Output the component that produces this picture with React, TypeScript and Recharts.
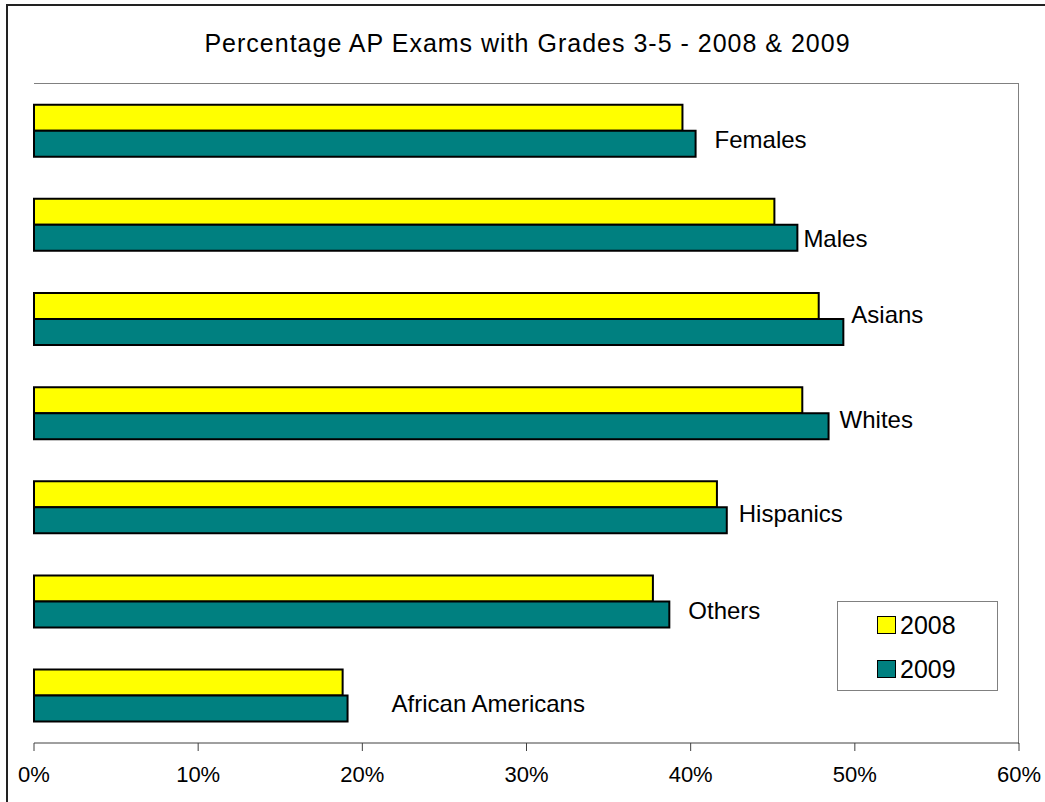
import { BarChart, Bar, XAxis, YAxis, Legend, LabelList } from 'recharts';

// category order top to bottom
const CATEGORIES = ['Females', 'Males', 'Asians', 'Whites', 'Hispanics', 'Others', 'African Americans'];
const VALUES_2008 = [0.395, 0.451, 0.478, 0.468, 0.416, 0.377, 0.188];
const VALUES_2009 = [0.403, 0.465, 0.493, 0.484, 0.422, 0.387, 0.191];
const X_TICKS = [0, 0.1, 0.2, 0.3, 0.4, 0.5, 0.6];

const SERIES = [
    { key: 'y2008', name: '2008', color: '#ffff00' },
    { key: 'y2009', name: '2009', color: '#008080' },
];

// hand placed category labels (px from the 2009 bar end / category centre)
const LABEL_DX = [19, 6, 8, 11, 12, 19, 44];
const LABEL_DY = [9, 14, -4, 6, 6, 9, 8];

const FONT = '"Liberation Sans", Arial, sans-serif';

const data = CATEGORIES.map((name, i) => ({
    name,
    y2008: VALUES_2008[i],
    y2009: VALUES_2009[i],
}));

const renderCategoryLabel = (props: any) => {
    const { x, y, width, index, value } = props;
    return (
        <text
            x={Number(x) + Number(width) + LABEL_DX[index]}
            y={Number(y) + LABEL_DY[index]}
            dominantBaseline="central"
            textAnchor="start"
            fontSize={24}
            fontFamily={FONT}
            fill="#000"
        >
            {value}
        </text>
    );
};

const renderLegend = () => (
    <div
        style={{
            position: 'relative',
            width: 159,
            height: 88,
            border: '1px solid #808080',
            background: '#fff',
            fontFamily: FONT,
            fontSize: 25,
            color: '#000',
        }}
    >
        {SERIES.map((s, i) => (
            <div
                key={s.key}
                style={{ position: 'absolute', left: 39, top: i === 0 ? 9 : 53, height: 28, display: 'flex', alignItems: 'center' }}
            >
                <span
                    style={{
                        display: 'inline-block',
                        width: 17,
                        height: 16,
                        background: s.color,
                        border: '1.5px solid #000',
                        marginRight: 4,
                    }}
                />
                <span>{s.name}</span>
            </div>
        ))}
    </div>
);

export default function App() {
    return (
        <div style={{ position: 'absolute', left: 0, top: 0, width: 1045, height: 802, overflow: 'hidden', background: '#fff' }}>
            <div
                style={{
                    position: 'absolute',
                    left: 6,
                    top: 4,
                    width: 1100,
                    height: 900,
                    border: '2px solid #222',
                }}
            />
            <div
                style={{
                    position: 'absolute',
                    left: 0,
                    top: 31,
                    width: 1055,
                    textAlign: 'center',
                    fontFamily: FONT,
                    fontSize: 25,
                    letterSpacing: 1,
                    lineHeight: '25px',
                    color: '#000',
                }}
            >
                Percentage AP Exams with Grades 3-5 - 2008 &amp; 2009
            </div>
            {/* plot area frame (top and right edges) */}
            <div
                style={{
                    position: 'absolute',
                    left: 34,
                    top: 83,
                    width: 984,
                    height: 660,
                    borderTop: '1.5px solid #808080',
                    borderRight: '1.5px solid #808080',
                    pointerEvents: 'none',
                }}
            />
            <div style={{ position: 'absolute', left: 0, top: 0 }}>
                <BarChart
                    width={1045}
                    height={802}
                    data={data}
                    layout="vertical"
                    margin={{ top: 84, right: 26, bottom: 0, left: 34 }}
                    barCategoryGap="22%"
                    barGap={0}
                >
                    <XAxis
                        type="number"
                        domain={[0, 0.6]}
                        ticks={X_TICKS}
                        tickFormatter={(v: number) => `${Math.round(v * 100)}%`}
                        height={59}
                        tickSize={8}
                        tickMargin={15}
                        stroke="#404040"
                        tick={{ fill: '#000', fontSize: 22, fontFamily: FONT }}
                        interval={0}
                    />
                    <YAxis type="category" dataKey="name" width={0} tick={false} tickLine={false} stroke="#404040" />
                    <Legend
                        layout="horizontal"
                        align="center"
                        verticalAlign="middle"
                        content={renderLegend}
                        wrapperStyle={{ position: 'absolute', left: 837, top: 601, width: 161, height: 90 }}
                    />
                    <Bar dataKey="y2008" name="2008" fill={SERIES[0].color} stroke="#000" strokeWidth={2} isAnimationActive={false} />
                    <Bar dataKey="y2009" name="2009" fill={SERIES[1].color} stroke="#000" strokeWidth={2} isAnimationActive={false}>
                        <LabelList dataKey="name" content={renderCategoryLabel} />
                    </Bar>
                </BarChart>
            </div>
        </div>
    );
}
